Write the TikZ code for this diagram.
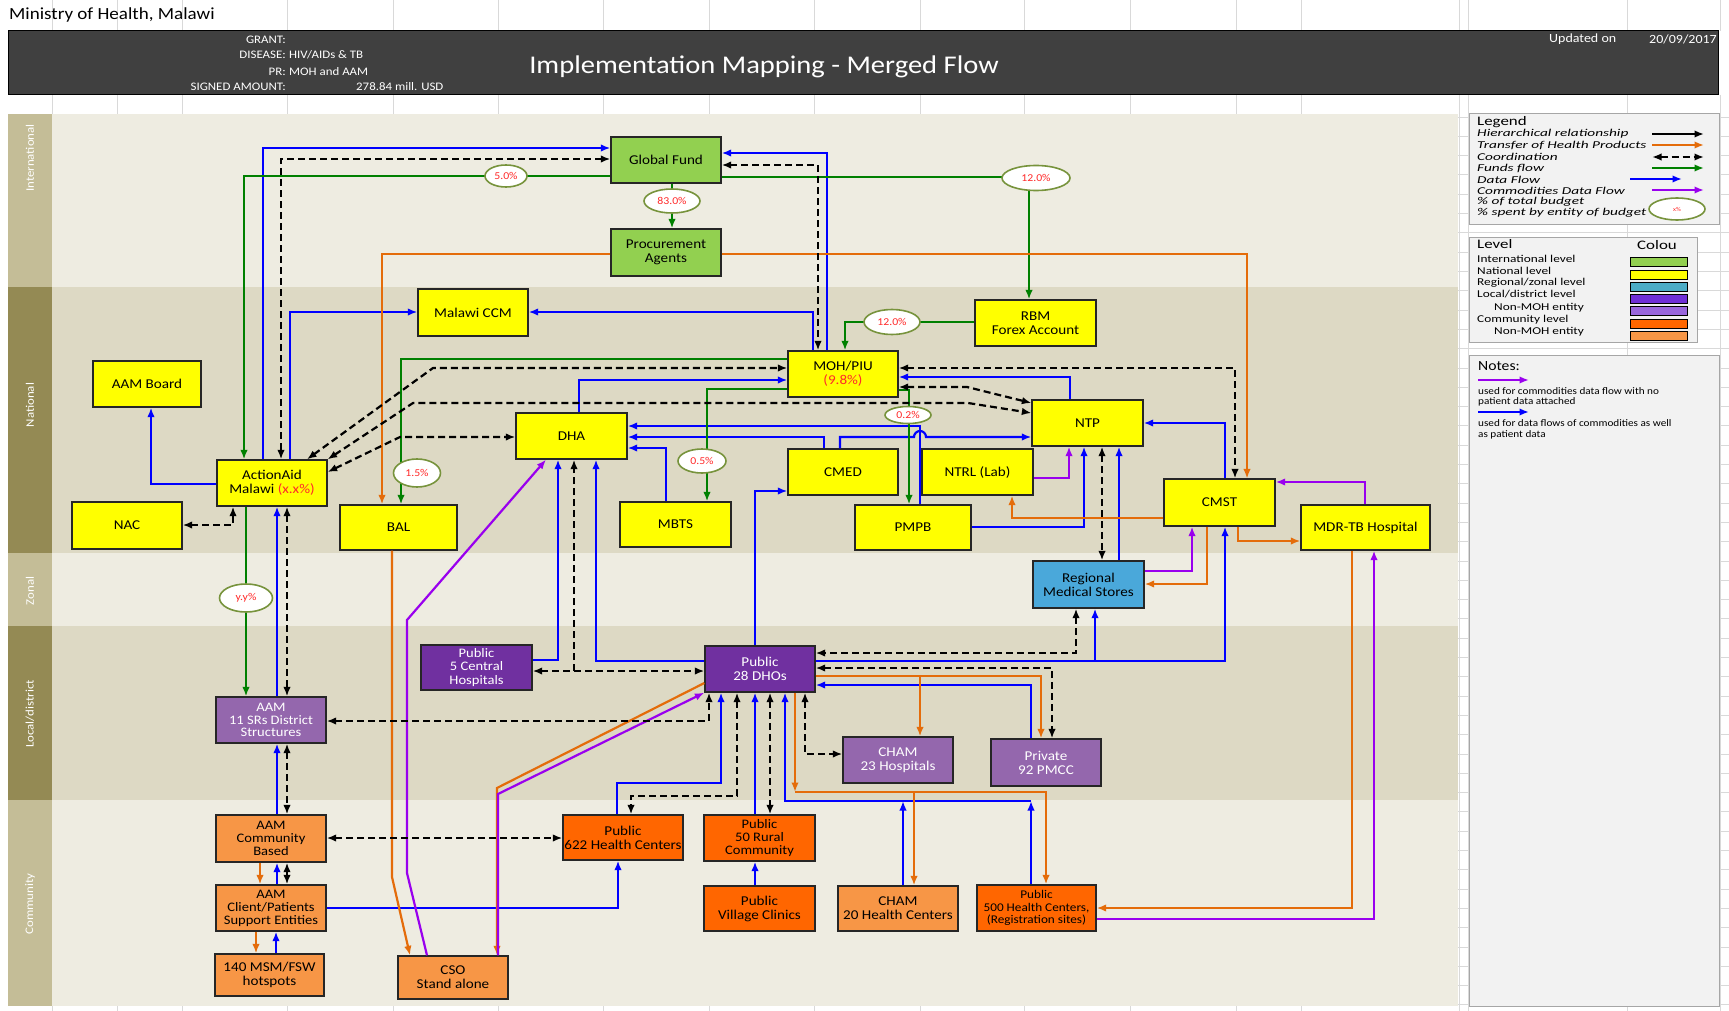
\documentclass[tikz,border=0pt]{standalone}
\usepackage{fontspec}
\setmainfont{Carlito}[FakeStretch=1.12]
\newfontfamily\legfont{Carlito}[FakeStretch=1.46]
\newfontfamily\levfont{Carlito}[FakeStretch=1.27]
\newfontfamily\headfont{Carlito}[FakeStretch=1.3]
\usetikzlibrary{arrows.meta,shapes.geometric}
\definecolor{cyel}{HTML}{FFFF00}
\definecolor{cgrb}{HTML}{92D050}
\definecolor{cteal}{HTML}{4AA8DA}
\definecolor{cdp}{HTML}{7030A0}
\definecolor{clp}{HTML}{9467AD}
\definecolor{cor}{HTML}{FF6600}
\definecolor{clor}{HTML}{F79646}
\definecolor{lblue}{HTML}{0000FF}
\definecolor{lgreen}{HTML}{008000}
\definecolor{lorange}{HTML}{E46C0A}
\definecolor{lpurple}{HTML}{9900EE}
\definecolor{bandL}{HTML}{EEECE1}
\definecolor{bandD}{HTML}{DDD9C4}
\definecolor{labL}{HTML}{C4BD97}
\definecolor{labD}{HTML}{948A54}
\definecolor{hdr}{HTML}{404040}
\definecolor{olive}{HTML}{77933C}
\definecolor{pctred}{HTML}{FF2A2A}
\definecolor{gridc}{HTML}{D9D9D9}
\definecolor{legbg}{HTML}{F2F2F2}
\definecolor{legbd}{HTML}{A6A6A6}
\definecolor{swteal}{HTML}{4BACC6}
\definecolor{swdp}{HTML}{6F2FD6}
\definecolor{swlp}{HTML}{9966DD}
\begin{document}
\begin{tikzpicture}[x=1pt,y=-1pt,
  box/.style={draw=black!85,line width=1.3pt,align=center,inner sep=1pt,
    font=\fontsize{13.5}{14}\selectfont,text=black},
  ybox/.style={box,fill=cyel},
  gbox/.style={box,fill=cgrb},
  tbox/.style={box,fill=cteal},
  dpbox/.style={box,fill=cdp,text=white},
  lpbox/.style={box,fill=clp,text=white},
  obox/.style={box,fill=cor},
  lobox/.style={box,fill=clor},
  tip/.tip={Latex[length=9.5pt,width=7.5pt]},
  ln/.style={line width=2.2pt},
  bl/.style={ln,draw=lblue,-tip},
  gr/.style={ln,draw=lgreen,-tip},
  org/.style={ln,draw=lorange,-tip},
  pu/.style={ln,draw=lpurple,-tip},
  co/.style={ln,draw=black,dash pattern=on 7pt off 4pt,tip-tip},
  cos/.style={ln,draw=black,dash pattern=on 7pt off 4pt,-tip},
  pct/.style={ellipse,draw=olive,line width=1.6pt,fill=white,text=pctred,
    inner sep=0pt,font=\fontsize{10.5}{11}\selectfont},
  band/.style={text=white,rotate=90,font=\fontsize{11.5}{12}\selectfont},
  legt/.style={anchor=west,inner sep=0pt,font=\legfont\fontsize{10.5}{11}\selectfont\itshape},
  levt/.style={anchor=west,inner sep=0pt,font=\levfont\fontsize{10.5}{11}\selectfont},
  nott/.style={anchor=west,inner sep=0pt,font=\fontsize{10}{11}\selectfont},
  lhd/.style={anchor=west,inner sep=0pt,font=\headfont\fontsize{13}{14}\selectfont},
  hdt/.style={text=white,inner sep=0pt,font=\fontsize{11.5}{12}\selectfont}
]
\useasboundingbox (0,0) rectangle (1729,1011);
\fill[white] (0,0) rectangle (1729,1011);
% grid lines
\foreach \gx in {52,117,182,287,393,498,603,709,814,920,1024,1130,1236,1301,1459,1468,1627,1720}{
  \draw[gridc,line width=0.8pt] (\gx,0) -- (\gx,31);
  \draw[gridc,line width=0.8pt] (\gx,95) -- (\gx,114);
  \draw[gridc,line width=0.8pt] (\gx,1006) -- (\gx,1011);}
\foreach \gx in {1459,1468,1627,1720}{\draw[gridc,line width=0.8pt] (\gx,114) -- (\gx,1011);}
\foreach \i in {0,...,46}{\draw[gridc,line width=0.8pt] (1458,117+\i*19.3) -- (1729,117+\i*19.3);}
% header
\node[anchor=west,inner sep=0pt,font=\fontsize{17}{18}\selectfont] (ministry) at (9,15) {Ministry of Health, Malawi};
\fill[hdr] (8,31) rectangle (1718,95);
\draw[black,line width=1pt] (8,31) rectangle (1718,95);
\node[hdt,anchor=east] (lg) at (286,40) {GRANT:};
\node[hdt,anchor=east] (ld) at (286,55) {DISEASE:};
\node[hdt,anchor=west] (vd) at (289,55) {HIV/AIDs \& TB};
\node[hdt,anchor=east] (lp) at (286,71.5) {PR:};
\node[hdt,anchor=west] (vp) at (289,71.5) {MOH and AAM};
\node[hdt,anchor=east] (ls) at (286,87) {SIGNED AMOUNT:};
\node[hdt,anchor=west] (vs) at (356,87) {278.84 mill. USD};
\node[text=white,inner sep=0pt,font=\fontsize{25.5}{27}\selectfont] (title) at (764,67) {Implementation Mapping - Merged Flow};
\node[hdt,anchor=west,font=\fontsize{12.5}{13}\selectfont] (upd) at (1549,39) {Updated on};
\node[hdt,anchor=east,font=\fontsize{12.5}{13}\selectfont] (date) at (1717,39) {20/09/2017};
% bands
\fill[bandL] (52,114) rectangle (1458,287);
\fill[bandD] (52,287) rectangle (1458,553);
\fill[bandL] (52,553) rectangle (1458,626);
\fill[bandD] (52,626) rectangle (1458,800);
\fill[bandL] (52,800) rectangle (1458,1006);
\fill[labL] (8,114) rectangle (52,287);
\fill[labD] (8,287) rectangle (52,553);
\fill[labL] (8,553) rectangle (52,626);
\fill[labD] (8,626) rectangle (52,800);
\fill[labL] (8,800) rectangle (52,1006);
\node[band] (bint) at (30,158) {International};
\node[band] (bnat) at (30,405) {National};
\node[band] (bzon) at (30,591) {Zonal};
\node[band] (bloc) at (30,714) {Local/district};
\node[band] (bcom) at (30,904) {Community};
% legend
\draw[legbd,fill=legbg,line width=1pt] (1469,114) rectangle (1719,225);
\node[lhd] (legh) at (1477,122) {Legend};
\node[legt] (l1) at (1477,134) {Hierarchical relationship};
\node[legt] (l2) at (1477,145.5) {Transfer of Health Products};
\node[legt] (l3) at (1477,157) {Coordination};
\node[legt] (l4) at (1477,168) {Funds flow};
\node[legt] (l5) at (1477,179.5) {Data Flow};
\node[legt] (l6) at (1477,190.5) {Commodities Data Flow};
\node[legt] (l7) at (1477,201.5) {\% of total budget};
\node[legt] (l8) at (1477,212.5) {\% spent by entity of budget};
\coordinate (a1s) at (1652,134); \coordinate (a1e) at (1704,134);
\coordinate (a2s) at (1652,145); \coordinate (a2e) at (1704,145);
\coordinate (a3s) at (1652,157); \coordinate (a3e) at (1704,157);
\coordinate (a4s) at (1652,168); \coordinate (a4e) at (1704,168);
\coordinate (a5s) at (1630,179); \coordinate (a5e) at (1682,179);
\coordinate (a6s) at (1652,190); \coordinate (a6e) at (1704,190);
\draw[ln,draw=black,-tip] (a1s) -- (a1e);
\draw[org] (a2s) -- (a2e);
\draw[co] (a3s) -- (a3e);
\draw[gr] (a4s) -- (a4e);
\draw[bl] (a5s) -- (a5e);
\draw[pu] (a6s) -- (a6e);
\node[pct,minimum width=56pt,minimum height=22pt,font=\fontsize{6}{6}\selectfont] (lx) at (1677,209) {x\%};
% level box
\draw[legbd,fill=legbg,line width=1pt] (1469,237) rectangle (1697,342);
\node[lhd] (levh) at (1477,244.5) {Level};
\node[lhd] (colh) at (1637,245.5) {Colou};
\node[levt] (v1) at (1477,258.5) {International level};
\node[levt] (v2) at (1477,270.5) {National level};
\node[levt] (v3) at (1477,282.5) {Regional/zonal level};
\node[levt] (v4) at (1477,294.5) {Local/district level};
\node[levt] (v5) at (1494,307.5) {Non-MOH entity};
\node[levt] (v6) at (1477,319.5) {Community level};
\node[levt] (v7) at (1494,331.5) {Non-MOH entity};
\foreach \yy/\cc in {262/cgrb,274.5/cyel,286.5/swteal,298.5/swdp,310.5/swlp,323.5/cor,335.5/clor}{
  \draw[black,line width=0.9pt,fill=\cc] (1630,\yy-4.5) rectangle (1687,\yy+4.5);}
% notes box
\draw[legbd,fill=legbg,line width=1pt] (1469,355) rectangle (1719,1006);
\node[anchor=west,inner sep=0pt,font=\fontsize{14}{15}\selectfont] (noth) at (1478,366) {Notes:};
\coordinate (n1s) at (1478,380); \coordinate (n1e) at (1529,380);
\coordinate (n2s) at (1478,412); \coordinate (n2e) at (1529,412);
\draw[pu] (n1s) -- (n1e);
\draw[bl] (n2s) -- (n2e);
\node[nott] (t1) at (1478,391) {used for commodities data flow with no};
\node[nott] (t2) at (1478,402) {patient data attached};
\node[nott] (t3) at (1478,423.5) {used for data flows of commodities as well};
\node[nott] (t4) at (1478,434.5) {as patient data};
% ---------- nodes ----------
\node[gbox,minimum width=110pt,minimum height=46pt] (gf) at (666,160) {Global Fund};
\node[gbox,minimum width=110pt,minimum height=47pt] (pa) at (666,252.5) {Procurement\\Agents};
\node[ybox,minimum width=110pt,minimum height=47pt] (ccm) at (473,312.5) {Malawi CCM};
\node[ybox,minimum width=108pt,minimum height=46pt] (board) at (147,384) {AAM Board};
\node[ybox,minimum width=110pt,minimum height=46pt] (aam) at (272,483) {ActionAid\\Malawi {\color{pctred}(x.x\%)}};
\node[ybox,minimum width=110pt,minimum height=47pt] (nac) at (127,525.5) {NAC};
\node[ybox,minimum width=117pt,minimum height=45pt] (bal) at (398.5,527.5) {BAL};
\node[ybox,minimum width=111pt,minimum height=46pt] (dha) at (571.5,436) {DHA};
\node[ybox,minimum width=111pt,minimum height=45pt] (mbts) at (675.5,524.5) {MBTS};
\node[ybox,minimum width=110pt,minimum height=46pt] (moh) at (843,374) {MOH/PIU\\{\color{pctred}(9.8\%)}};
\node[ybox,minimum width=121pt,minimum height=46pt] (rbm) at (1035.5,323) {RBM\\Forex Account};
\node[ybox,minimum width=111pt,minimum height=46pt] (ntp) at (1087.5,423) {NTP};
\node[ybox,minimum width=110pt,minimum height=46pt] (cmed) at (843,472) {CMED};
\node[ybox,minimum width=111pt,minimum height=46pt] (ntrl) at (977.5,472) {NTRL (Lab)};
\node[ybox,minimum width=116pt,minimum height=45pt] (pmpb) at (913,527.5) {PMPB};
\node[ybox,minimum width=111pt,minimum height=47pt] (cmst) at (1219.5,502.5) {CMST};
\node[ybox,minimum width=129pt,minimum height=45pt] (mdr) at (1365.5,527.5) {MDR-TB Hospital};
\node[tbox,minimum width=111pt,minimum height=47pt] (rms) at (1088.5,584.5) {Regional\\Medical Stores};
\node[dpbox,minimum width=110pt,minimum height=46pt] (dho) at (760,669) {Public\\28 DHOs};
\node[dpbox,minimum width=111pt,minimum height=45pt,font=\fontsize{13}{13.2}\selectfont] (ch5) at (476.5,667.5) {Public\\5 Central\\Hospitals};
\node[lpbox,minimum width=110pt,minimum height=46pt,font=\fontsize{13}{12.8}\selectfont] (sr11) at (271,720) {AAM\\11 SRs District\\Structures};
\node[lpbox,minimum width=110pt,minimum height=46pt] (cham23) at (898,760) {CHAM\\23 Hospitals};
\node[lpbox,minimum width=110pt,minimum height=47pt] (priv) at (1046,762.5) {Private\\92 PMCC};
\node[lobox,minimum width=110pt,minimum height=47pt,font=\fontsize{13}{13}\selectfont] (comm) at (271,838.5) {AAM\\Community\\Based};
\node[lobox,minimum width=110pt,minimum height=46pt,font=\fontsize{13}{13}\selectfont] (client) at (271,908) {AAM\\Client/Patients\\Support Entities};
\node[lobox,minimum width=109pt,minimum height=42pt] (msm) at (269.5,975) {140 MSM/FSW\\hotspots};
\node[lobox,minimum width=110pt,minimum height=43pt] (cso) at (453,977.5) {CSO\\Stand alone};
\node[obox,minimum width=120pt,minimum height=45pt] (hc622) at (623,837.5) {Public\\622 Health Centers};
\node[obox,minimum width=111pt,minimum height=46pt,font=\fontsize{13}{13}\selectfont] (rural) at (759.5,838) {Public\\50 Rural\\Community};
\node[obox,minimum width=111pt,minimum height=45pt] (village) at (759.5,908.5) {Public\\Village Clinics};
\node[lobox,minimum width=120pt,minimum height=45pt] (cham20) at (898,908.5) {CHAM\\20 Health Centers};
\node[obox,minimum width=119pt,minimum height=46pt,font=\fontsize{11.8}{12.2}\selectfont] (hc500) at (1036.5,908) {Public\\500 Health Centers,\\(Registration sites)};
% ---------- coordinates ----------
\coordinate (j1) at (1031,801);
\coordinate (j2) at (903,801);
\coordinate (k1) at (795,792);
\coordinate (k2) at (914,792);
\coordinate (k3) at (920,676);
\coordinate (k4) at (574,671);
% ---------- blue ----------
\draw[bl] (aam.north -| 263,0) |- (gf.west |- 0,148);
\draw[bl] (aam.north -| 290,0) |- (ccm.west |- 0,312);
\draw[bl] (moh.north -| 813,0) |- (ccm.east |- 0,312);
\draw[bl] (moh.north -| 827,0) |- (gf.east |- 0,153);
\draw[bl] (dha.north -| 579,0) |- (moh.west |- 0,380);
\draw[bl] (ntp.north -| 1070,0) |- (moh.east |- 0,377);
\draw[bl] (pmpb.north -| 920,0) |- (dha.east |- 0,426);
\draw[bl] (cmed.north -| 824,0) |- (dha.east |- 0,437);
\draw[bl] (mbts.north -| 666,0) |- (dha.east |- 0,448);
\draw[bl] (cmed.north -| 840,0) |- (914,437) arc[start angle=180,end angle=0,radius=6pt] -- (ntp.west |- 0,437);
\draw[bl] (pmpb.east |- 0,527) -| (ntp.south -| 1084,0);
\draw[bl] (rms.north -| 1119,0) -- (ntp.south -| 1119,0);
\draw[bl] (cmst.north -| 1225,0) |- (ntp.east |- 0,423);
\draw[bl] (dho.east |- 0,661) -| (cmst.south -| 1225,0);
\draw[bl] (dho.east |- 0,661) -| (rms.south -| 1095,0);
\draw[bl] (dho.north -| 755,0) |- (cmed.west |- 0,491);
\draw[bl] (dho.west |- 0,661) -| (dha.south -| 596,0);
\draw[bl] (ch5.east |- 0,660) -| (dha.south -| 558,0);
\draw[bl] (hc622.north -| 617,0) -- (617,783) -| (dho.south -| 721,0);
\draw[bl] (rural.north -| 755,0) -- (dho.south -| 755,0);
\draw[bl] (village.north -| 755,0) -- (rural.south -| 755,0);
\draw[bl] (cham20.north -| 903,0) -- (j2);
\draw[bl] (hc500.north -| 1031,0) -- (j1);
\draw[bl] (j1) -| (dho.south -| 785,0);
\draw[bl] (priv.north -| 1031,0) |- (dho.east |- 0,685);
\draw[bl] (aam.west |- 0,484) -| (board.south -| 151,0);
\draw[bl] (sr11.north -| 277,0) -- (aam.south -| 277,0);
\draw[bl] (comm.north -| 277,0) -- (sr11.south -| 277,0);
\draw[bl] (client.north -| 277,0) -- (comm.south -| 277,0);
\draw[bl] (msm.north -| 276,0) -- (client.south -| 276,0);
\draw[bl] (client.east |- 0,908) -| (hc622.south -| 618,0);
% ---------- green ----------
\draw[gr] (gf.west |- 0,176) -| (aam.north -| 244,0);
\draw[gr] (gf.south -| 672,0) -- (pa.north -| 672,0);
\draw[gr] (gf.east |- 0,177) -| (rbm.north -| 1029,0);
\draw[gr] (rbm.west |- 0,322) -| (moh.north -| 845,0);
\draw[gr] (moh.west |- 0,359) -| (bal.north -| 401,0);
\draw[gr] (moh.west |- 0,389) -| (mbts.north -| 707,0);
\draw[gr] (moh.east |- 0,390) -| (pmpb.north -| 909,0);
\draw[gr] (aam.south -| 246,0) -- (sr11.north -| 246,0);
% ---------- orange ----------
\draw[org] (pa.west |- 0,254) -| (bal.north -| 382,0);
\draw[org,line width=1.5pt] (pa.east |- 0,254) -| (cmst.north -| 1247,0);
\draw[org] (cmst.west |- 0,518) -| (ntrl.south -| 1012,0);
\draw[org] (cmst.south -| 1238,0) |- (mdr.west |- 0,541);
\draw[org] (cmst.south -| 1207,0) |- (rms.east |- 0,584);
\draw[org] (mdr.south -| 1352,0) |- (hc500.east |- 0,908);
\draw[org] (bal.south -| 392,0) -- (392,877) -- (cso.north -| 410,0);
\draw[org] (dho.west |- 0,683) -- (497,788) -- (cso.north -| 497,0);
\draw[org] (dho.south -| 795,0) -- (k1);
\draw[org] (k1) -| (cham20.north -| 914,0);
\draw[org] (k2) -| (hc500.north -| 1046,0);
\draw[org] (dho.east |- 0,676) -| (priv.north -| 1041,0);
\draw[org] (k3) -- (cham23.north -| 920,0);
\draw[org] (comm.south -| 260,0) -- (client.north -| 260,0);
\draw[org] (client.south -| 256,0) -- (msm.north -| 256,0);
% ---------- purple ----------
\draw[pu] (ntrl.east |- 0,478) -| (ntp.south -| 1069,0);
\draw[pu] (mdr.north -| 1365,0) |- (cmst.east |- 0,482);
\draw[pu] (rms.east |- 0,571) -| (cmst.south -| 1192,0);
\draw[pu] (hc500.east |- 0,919) -| (mdr.south -| 1374,0);
\draw[pu] (cso.north -| 427,0) -- (407,873) -- (407,620) -- (dha.south -| 546,0);
\draw[pu] (cso.north -| 498,0) -- (498,794) -- (dho.south west);
% ---------- coordination ----------
\draw[co] (gf.west |- 0,159) -| (aam.north -| 281,0);
\draw[co] (gf.east |- 0,165) -| (moh.north -| 818,0);
\draw[co] (aam.north -| 307,0) -- (433,368) -- (moh.west |- 0,368);
\draw[co] (aam.north east) -- (413,403) -- (968,403) -- (ntp.west |- 0,413);
\draw[co] (aam.east |- 0,472) -- (400,437) -- (dha.west |- 0,437);
\draw[co] (moh.east |- 0,387) -- (967,387) -- (ntp.west |- 0,403);
\draw[co] (moh.east |- 0,368) -| (cmst.north -| 1235,0);
\draw[co] (ntp.south -| 1102,0) -- (rms.north -| 1102,0);
\draw[co] (rms.south -| 1076,0) |- (dho.east |- 0,653);
\draw[co] (nac.east |- 0,525) -| (aam.south -| 233,0);
\draw[co] (aam.south -| 287,0) -- (sr11.north -| 287,0);
\draw[co] (sr11.south -| 287,0) -- (comm.north -| 287,0);
\draw[co] (comm.south -| 287,0) -- (client.north -| 287,0);
\draw[co] (comm.east |- 0,838) -- (hc622.west |- 0,838);
\draw[co] (sr11.east |- 0,721) -| (dho.south -| 709,0);
\draw[co] (ch5.east |- 0,671) -- (dho.west |- 0,671);
\draw[cos] (k4) -- (dha.south -| 574,0);
\draw[co] (dho.south -| 737,0) -- (737,796) -| (hc622.north -| 631,0);
\draw[co] (dho.south -| 770,0) -- (rural.north -| 770,0);
\draw[co] (dho.south -| 805,0) |- (cham23.west |- 0,754);
\draw[co] (dho.east |- 0,668) -| (priv.north -| 1052,0);
% ---------- budget ellipses ----------
\node[pct,minimum width=42pt,minimum height=22pt] (p5) at (506,176) {5.0\%};
\node[pct,minimum width=56pt,minimum height=24pt] (p83) at (672,201) {83.0\%};
\node[pct,minimum width=68pt,minimum height=25pt] (p12a) at (1036,178) {12.0\%};
\node[pct,minimum width=56pt,minimum height=25pt] (p12b) at (892,322) {12.0\%};
\node[pct,minimum width=46pt,minimum height=17pt] (p02) at (908,415) {0.2\%};
\node[pct,minimum width=48pt,minimum height=24pt] (p05) at (702,461) {0.5\%};
\node[pct,minimum width=47pt,minimum height=28pt] (p15) at (417,473) {1.5\%};
\node[pct,minimum width=53pt,minimum height=28pt] (pyy) at (246,598) {y.y\%};
\end{tikzpicture}
\end{document}
